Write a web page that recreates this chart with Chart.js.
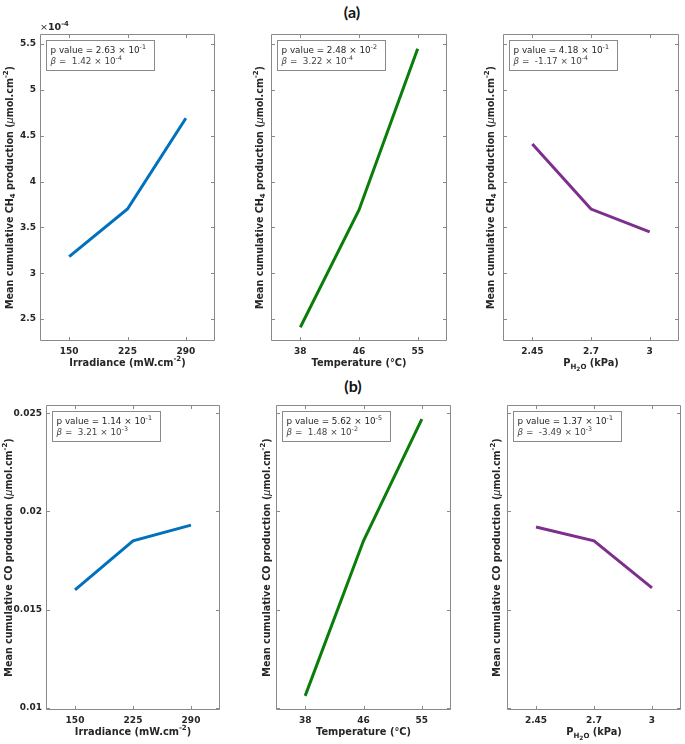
<!DOCTYPE html>
<html>
<head>
<meta charset="utf-8">
<script src="https://cdn.jsdelivr.net/npm/chart.js@4.4.1/dist/chart.umd.min.js"></script>
<style>
    html, body { margin: 0; padding: 0; background: #fff; }
    #page { position: relative; width: 685px; height: 744px; overflow: hidden; background: #fff; }
    #page canvas { position: absolute; }
    .panel-title { position: absolute; width: 60px; text-align: center; font: bold 16px Lato, 'Open Sans', sans-serif; color: #111; }
</style>
</head>
<body>
<div id="page">
    <div class="panel-title" style="left:322px; top:2px;">(a)</div>
    <div class="panel-title" style="left:323px; top:376px;">(b)</div>
</div>
<script>
// x categories
const irradianceLabels  = ['150', '225', '290'];
const temperatureLabels = ['38', '46', '55'];
const waterLabels       = ['2.45', '2.7', '3'];

// CH4 means (umol.cm-2)
const ch4Irradiance  = [3.18e-4, 3.70e-4, 4.69e-4];
const ch4Temperature = [2.41e-4, 3.69e-4, 5.45e-4];
const ch4Water       = [4.41e-4, 3.70e-4, 3.45e-4];

// CO means (umol.cm-2)
const coIrradiance  = [0.0160, 0.0185, 0.0193];
const coTemperature = [0.0106, 0.0185, 0.0247];
const coWater       = [0.0192, 0.0185, 0.0161];

// y ticks
const ch4Ticks      = [2.5e-4, 3e-4, 3.5e-4, 4e-4, 4.5e-4, 5e-4, 5.5e-4];
const ch4TickLabels = ['2.5', '3', '3.5', '4', '4.5', '5', '5.5'];
const coTicks       = [0.01, 0.015, 0.02, 0.025];
const coTickLabels  = ['0.01', '0.015', '0.02', '0.025'];

// regression stats (mantissa, exponent)
const ch4PMant    = ['2.63', '2.48', '4.18'];
const ch4PExp     = ['-1', '-2', '-1'];
const ch4BetaMant = ['1.42', '3.22', '-1.17'];
const ch4BetaExp  = ['-4', '-4', '-4'];
const coPMant     = ['1.14', '5.62', '1.37'];
const coPExp      = ['-1', '-5', '-1'];
const coBetaMant  = ['3.21', '1.48', '-3.49'];
const coBetaExp   = ['-3', '-2', '-3'];

const BLUE = '#0072BD', GREEN = '#0b7d0b', PURPLE = '#7E2F8E';
const FRAME = '#8a8a8a';
const TXT = '#262626';
const FAMILY = "'DejaVu Sans', sans-serif";

const ch4Title = [
    { t: 'Mean cumulative CH' }, { t: '4', lvl: 1 }, { t: ' production (' },
    { t: 'μ', w: 'normal', it: true }, { t: 'mol.cm' }, { t: '-2', lvl: -1 }, { t: ')' },
];
const coTitle = [
    { t: 'Mean cumulative CO production (' },
    { t: 'μ', w: 'normal', it: true }, { t: 'mol.cm' }, { t: '-2', lvl: -1 }, { t: ')' },
];
const irrTitle  = [{ t: 'Irradiance (mW.cm' }, { t: '-2', lvl: -1 }, { t: ')' }];
const tempTitle = [{ t: 'Temperature (°C)' }];
const waterTitle = [
    { t: 'P' }, { t: 'H', lvl: 1 }, { t: '2', lvl: 2 }, { t: 'O', lvl: 1 }, { t: ' (kPa)' },
];

function segFont(s, size, defWeight) {
    const lvl = s.lvl || 0;
    const sz = lvl === 0 ? size : (lvl === 2 ? size * 0.6 : size * 0.72);
    const w = s.w || defWeight;
    return `${s.it ? 'italic ' : ''}${w} ${sz}px ${FAMILY}`;
}

function segDy(s, size) {
    const lvl = s.lvl || 0;
    if (lvl === 1) return size * 0.38;
    if (lvl === 2) return size * 0.62;
    if (lvl === -1) return -size * 0.42;
    return 0;
}

function richWidth(ctx, segs, size, weight) {
    let w = 0;
    segs.forEach(s => { ctx.font = segFont(s, size, weight); w += ctx.measureText(s.t).width; });
    return w;
}

function drawRich(ctx, segs, x, y, size, weight, align) {
    let cx = x;
    const total = richWidth(ctx, segs, size, weight);
    if (align === 'center') cx = x - total / 2;
    ctx.textBaseline = 'middle';
    ctx.textAlign = 'left';
    segs.forEach(s => {
        ctx.font = segFont(s, size, weight);
        ctx.fillText(s.t, cx, y + segDy(s, size));
        cx += ctx.measureText(s.t).width;
    });
    return total;
}

function makeDeco(p) {
    return {
        id: 'deco',
        afterDraw(chart) {
            const ctx = chart.ctx;
            const a = chart.chartArea;
            const xs = chart.scales.x, ys = chart.scales.y;
            ctx.save();
            ctx.strokeStyle = FRAME;
            ctx.lineWidth = 1;
            ctx.beginPath();
            ctx.rect(Math.round(a.left) + 0.5, Math.round(a.top) + 0.5,
                     Math.round(a.right - a.left) - 1, Math.round(a.bottom - a.top) - 1);
            ctx.stroke();

            // inward ticks on all four sides
            ctx.beginPath();
            ys.ticks.forEach(t => {
                const py = Math.round(ys.getPixelForValue(t.value)) + 0.5;
                ctx.moveTo(a.left, py); ctx.lineTo(a.left + 4, py);
                ctx.moveTo(a.right - 4, py); ctx.lineTo(a.right, py);
            });
            chart.data.labels.forEach((l, i) => {
                const px = Math.round(xs.getPixelForValue(i)) + 0.5;
                ctx.moveTo(px, a.top); ctx.lineTo(px, a.top + 4);
                ctx.moveTo(px, a.bottom - 4); ctx.lineTo(px, a.bottom);
            });
            ctx.stroke();

            ctx.fillStyle = TXT;
            // y title
            ctx.save();
            ctx.translate(a.left - p.yGap, (a.top + a.bottom) / 2);
            ctx.rotate(-Math.PI / 2);
            drawRich(ctx, p.yTitle, 0, 0, 9.6, 'bold', 'center');
            ctx.restore();

            // x title
            drawRich(ctx, p.xTitle, (a.left + a.right) / 2, a.bottom + 22, 9.8, 'bold', 'center');

            // exponent multiplier
            if (p.expLabel) {
                let x = a.left;
                const y = a.top - 6;
                x += drawRich(ctx, [{ t: '×', w: 'normal' }], x, y, 9.5, 'bold', 'left');
                drawRich(ctx, [{ t: '10' }, { t: p.expLabel, lvl: -1 }], x, y, 9.5, 'bold', 'left');
            }

            // stats box
            const line1 = [{ t: 'p value = ' + p.pMant + ' × 10' }, { t: p.pExp, lvl: -1 }];
            const line2 = [{ t: 'β', it: true }, { t: ' =  ' + p.bMant + ' × 10' }, { t: p.bExp, lvl: -1 }];
            const fs = 8.8;
            const tw = Math.max(richWidth(ctx, line1, fs, 'normal'), richWidth(ctx, line2, fs, 'normal'));
            const bx = Math.round(a.left) + 6.5, by = Math.round(a.top) + 6.5;
            const bw = Math.round(tw + 13), bh = 30;
            ctx.fillStyle = '#fff';
            ctx.fillRect(bx, by, bw, bh);
            ctx.strokeStyle = FRAME;
            ctx.strokeRect(bx, by, bw, bh);
            ctx.fillStyle = TXT;
            drawRich(ctx, line1, bx + 4, by + 10.5, fs, 'normal', 'left');
            ctx.fillStyle = '#444';
            drawRich(ctx, line2, bx + 4, by + 21.5, fs, 'normal', 'left');
            ctx.restore();
        },
    };
}

const PAD_L = 45, PAD_T = 16, PAD_R = 4, PAD_B = 34;

function makePanel(p) {
    const page = document.getElementById('page');
    const canvas = document.createElement('canvas');
    const w = (p.area[1] - p.area[0]) + PAD_L + PAD_R;
    const h = (p.area[3] - p.area[2]) + PAD_T + PAD_B;
    canvas.width = w; canvas.height = h;
    canvas.style.left = (p.area[0] - PAD_L) + 'px';
    canvas.style.top = (p.area[2] - PAD_T) + 'px';
    canvas.style.width = w + 'px'; canvas.style.height = h + 'px';
    page.appendChild(canvas);

    new Chart(canvas, {
        type: 'line',
        data: {
            labels: p.labels,
            datasets: [{
                data: p.values,
                borderColor: p.color,
                borderWidth: 3,
                pointRadius: 0,
                tension: 0,
                fill: false,
            }],
        },
        options: {
            responsive: false,
            animation: false,
            devicePixelRatio: 1,
            layout: { padding: { left: 0, top: PAD_T, right: PAD_R, bottom: 0 } },
            plugins: { legend: { display: false }, tooltip: { enabled: false } },
            scales: {
                x: {
                    type: 'category',
                    offset: true,
                    grid: { display: false, drawTicks: false },
                    border: { display: false },
                    ticks: {
                        color: TXT, padding: 5, maxRotation: 0,
                        font: { family: FAMILY, size: 9, weight: 'bold' },
                    },
                    afterFit: s => { s.height = PAD_B; },
                },
                y: {
                    type: 'linear',
                    min: p.yMin, max: p.yMax,
                    grid: { display: false, drawTicks: false },
                    border: { display: false },
                    afterBuildTicks: s => { s.ticks = p.ticks.map(v => ({ value: v })); },
                    ticks: {
                        display: p.showY,
                        color: TXT, padding: 4,
                        font: { family: FAMILY, size: 9, weight: 'bold' },
                        callback: (v, i) => p.tickLabels[i],
                    },
                    afterFit: s => { s.width = PAD_L; },
                },
            },
        },
        plugins: [makeDeco(p)],
    });
}

const ch4Range = [2.26e-4, 5.61e-4];
const coRange  = [0.00988, 0.02542];

const panels = [
    { area: [40, 215, 34, 341],  labels: irradianceLabels,  values: ch4Irradiance,  color: BLUE,   showY: true,  yGap: 30, xTitle: irrTitle,   yTitle: ch4Title, expLabel: '-4', k: 0, gas: 'ch4' },
    { area: [271, 447, 34, 341], labels: temperatureLabels, values: ch4Temperature, color: GREEN,  showY: false, yGap: 11, xTitle: tempTitle,  yTitle: ch4Title, k: 1, gas: 'ch4' },
    { area: [503, 679, 34, 341], labels: waterLabels,       values: ch4Water,       color: PURPLE, showY: false, yGap: 12, xTitle: waterTitle, yTitle: ch4Title, k: 2, gas: 'ch4' },
    { area: [46, 220, 405, 710], labels: irradianceLabels,  values: coIrradiance,   color: BLUE,   showY: true,  yGap: 37, xTitle: irrTitle,   yTitle: coTitle, k: 0, gas: 'co' },
    { area: [276, 451, 405, 710], labels: temperatureLabels, values: coTemperature, color: GREEN,  showY: false, yGap: 9,  xTitle: tempTitle,  yTitle: coTitle, k: 1, gas: 'co' },
    { area: [507, 681, 405, 710], labels: waterLabels,      values: coWater,        color: PURPLE, showY: false, yGap: 10, xTitle: waterTitle, yTitle: coTitle, k: 2, gas: 'co' },
];

panels.forEach(p => {
    const isCh4 = p.gas === 'ch4';
    p.yMin = isCh4 ? ch4Range[0] : coRange[0];
    p.yMax = isCh4 ? ch4Range[1] : coRange[1];
    p.ticks = isCh4 ? ch4Ticks : coTicks;
    p.tickLabels = isCh4 ? ch4TickLabels : coTickLabels;
    p.pMant = (isCh4 ? ch4PMant : coPMant)[p.k];
    p.pExp  = (isCh4 ? ch4PExp : coPExp)[p.k];
    p.bMant = (isCh4 ? ch4BetaMant : coBetaMant)[p.k];
    p.bExp  = (isCh4 ? ch4BetaExp : coBetaExp)[p.k];
    makePanel(p);
});
</script>
</body>
</html>
